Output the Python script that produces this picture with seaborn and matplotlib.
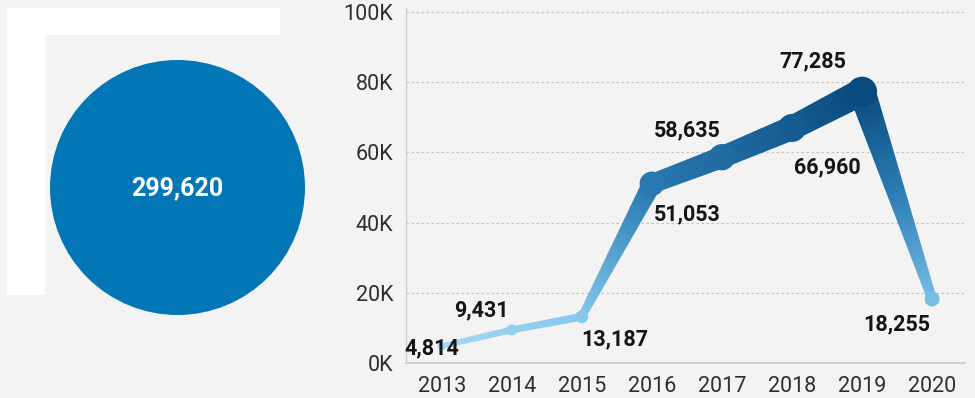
import numpy as np
import pandas as pd
import matplotlib
matplotlib.use("Agg")
import matplotlib.pyplot as plt
import seaborn as sns
from matplotlib.patches import Polygon, Rectangle, Circle
from matplotlib.colors import LinearSegmentedColormap, Normalize

# --- data -------------------------------------------------------------
years = [2013, 2014, 2015, 2016, 2017, 2018, 2019, 2020]
counts = [4814, 9431, 13187, 51053, 58635, 66960, 77285, 18255]
y_ticks = [0, 20000, 40000, 60000, 80000, 100000]
y_tick_labels = ["0K", "20K", "40K", "60K", "80K", "100K"]
# label offsets from each point, in pixels (dx, dy)
label_dx = [-10, -30, 33, 35, -35, 35, -49, -35]
label_dy = [-2, 20, -23, -31, 27, -39, 30, -25]

total = sum(counts)

sns.set_theme(style="white")
plt.rcParams["font.family"] = ["Roboto", "DejaVu Sans"]

BG = "#f3f3f3"
DPI = 100
W, H = 975, 398
fig = plt.figure(figsize=(W / DPI, H / DPI), dpi=DPI, facecolor=BG)

# --- KPI card on the left ----------------------------------------------
bg = fig.add_axes([0, 0, 1, 1], zorder=0)
bg.set_xlim(0, W)
bg.set_ylim(H, 0)
bg.axis("off")
bg.add_patch(Rectangle((7, 8), 273, 27, facecolor="white", edgecolor="none"))
bg.add_patch(Rectangle((7, 8), 38, 287, facecolor="white", edgecolor="none"))
bg.add_patch(Circle((177.5, 187.5), 127.5, facecolor="#0376b5", edgecolor="none"))
bg.text(177, 188, f"{total:,}", color="white", fontsize=18, fontweight="bold",
        ha="center", va="center")

# --- line chart ---------------------------------------------------------
ax_l, ax_b, ax_w, ax_h = 406, 35, 559, 355
ax = fig.add_axes([ax_l / W, ax_b / H, ax_w / W, ax_h / H], zorder=1)
ax.set_facecolor("none")
ax.set_xlim(2012.49, 2020.47)
ax.set_ylim(0, 101140)

cmap = LinearSegmentedColormap.from_list(
    "trend", [(0, "#a3daf5"), (0.15, "#7cc2e8"), (0.6, "#2c7db6"), (1, "#094a7e")])
norm = Normalize(min(counts), max(counts))


def width_px(v):
    return 4 + v * 0.3 / 1000


to_disp = ax.transData
to_data = ax.transData.inverted()
pts = to_disp.transform(np.column_stack([years, counts]))

# tapered, colour-graded segments between consecutive years
for i in range(len(years) - 1):
    p0, p1 = pts[i], pts[i + 1]
    v0, v1 = counts[i], counts[i + 1]
    d = p1 - p0
    L = np.hypot(*d)
    u = d / L
    n = np.array([-u[1], u[0]])
    w0, w1 = width_px(v0) / 2, width_px(v1) / 2
    quad = np.array([p0 + n * w0, p1 + n * w1, p1 - n * w1, p0 - n * w0])
    quad_data = to_data.transform(quad)
    poly = Polygon(quad_data, closed=True, facecolor="none", edgecolor="none")
    ax.add_patch(poly)
    x0, y0 = quad.min(axis=0)
    x1, y1 = quad.max(axis=0)
    nx, ny = int(x1 - x0) + 2, int(y1 - y0) + 2
    gx, gy = np.meshgrid(np.linspace(x0, x1, nx), np.linspace(y0, y1, ny))
    t = np.clip(((gx - p0[0]) * u[0] + (gy - p0[1]) * u[1]) / L, 0, 1)
    img = cmap(norm(v0 + t * (v1 - v0)))
    (dx0, dy0), (dx1, dy1) = to_data.transform([[x0, y0], [x1, y1]])
    im = ax.imshow(img, origin="lower", extent=(dx0, dx1, dy0, dy1),
                   aspect="auto", interpolation="bilinear", zorder=2)
    im.set_clip_path(poly)

ax.set_xlim(2012.49, 2020.47)
ax.set_ylim(0, 101140)

df = pd.DataFrame({"year": years, "count": counts})
sns.scatterplot(data=df, x="year", y="count", hue="count", palette=cmap,
                hue_norm=norm, size="count", sizes=(36, 470),
                size_norm=norm, edgecolor="none", linewidth=0,
                legend=False, ax=ax, zorder=3)

for x, v, dx, dy in zip(years, counts, label_dx, label_dy):
    ax.annotate(f"{v:,}", (x, v), xytext=(dx, dy), textcoords="offset pixels",
                ha="center", va="center", fontsize=15.5, fontweight="bold",
                color="#151515", zorder=4)

# axes styling
ax.set_xticks(years)
ax.set_xticklabels([str(y) for y in years])
ax.set_yticks(y_ticks)
ax.set_yticklabels(y_tick_labels)
ax.tick_params(axis="both", length=0, labelsize=15.5, labelcolor="#2e2e2e")
ax.tick_params(axis="y", pad=9)
ax.tick_params(axis="x", pad=9)
ax.set_xlabel("")
ax.set_ylabel("")
for yv in y_ticks[1:]:
    ax.axhline(yv, color="#c4c4c4", lw=0.9, ls=(0, (2, 2)), zorder=1)
for side in ("top", "right"):
    ax.spines[side].set_visible(False)
ax.spines["left"].set_color("#cfcfcf")
ax.spines["left"].set_linewidth(1.0)
ax.spines["bottom"].set_color("#cfcfcf")
ax.spines["bottom"].set_linewidth(1.4)

fig.savefig("out.png", dpi=DPI, facecolor=BG)
